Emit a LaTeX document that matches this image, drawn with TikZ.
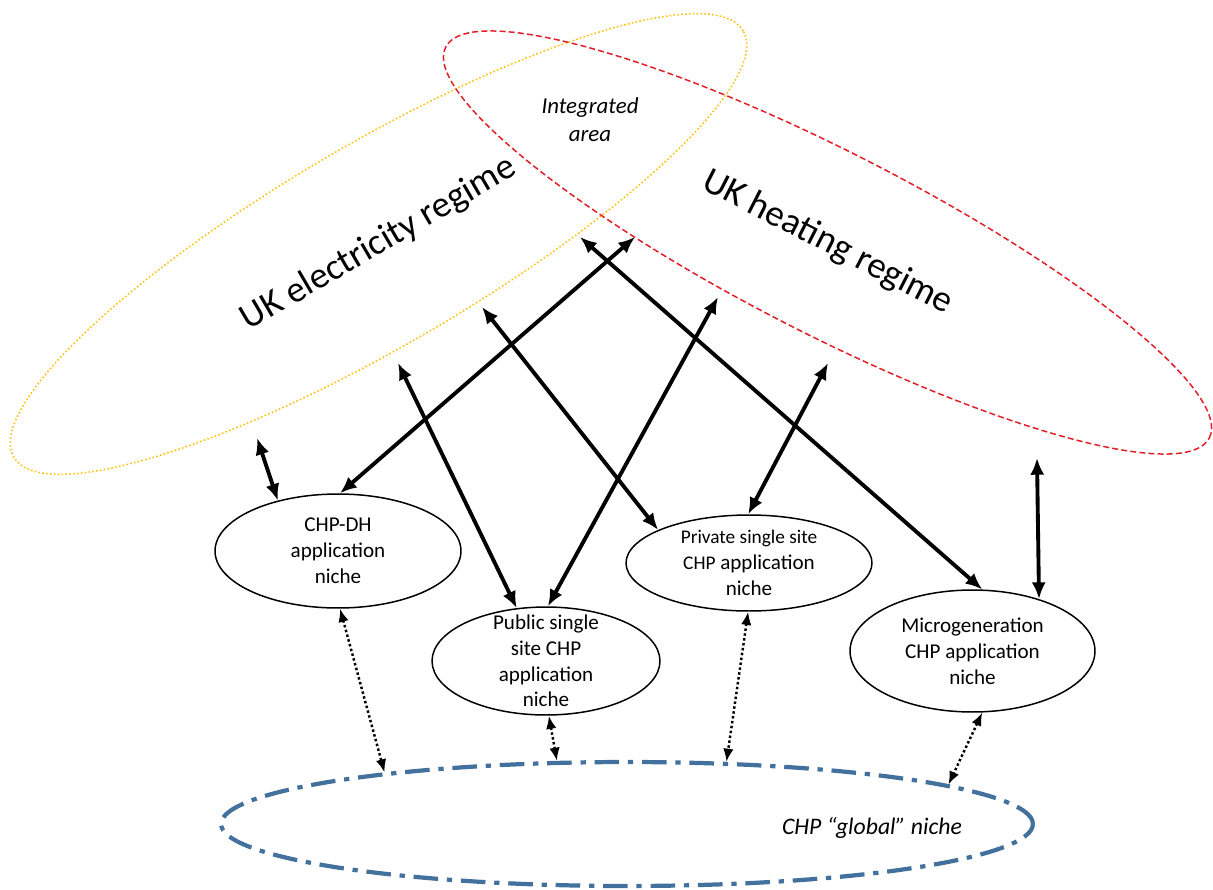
\documentclass[tikz,border=0pt]{standalone}
\usepackage{fontspec}
\setmainfont{Carlito}
\usetikzlibrary{shapes.geometric,arrows.meta}
\definecolor{elecgold}{RGB}{255,192,0}
\definecolor{heatred}{RGB}{226,30,38}
\definecolor{globalblue}{RGB}{65,113,156}
\begin{document}
\begin{tikzpicture}[x=0.02cm,y=-0.02cm,
  regime/.style={ellipse, inner sep=0pt, line width=0.85pt, font=\fontsize{21}{25}\selectfont},
  niche/.style={ellipse, draw, line width=0.85pt, inner sep=0pt},
  nichetext/.style={align=center, font=\fontsize{12}{14.7}\selectfont, inner sep=0pt},
  link/.style={line width=2.2pt, {Latex[length=9.5pt,width=8pt]}-{Latex[length=9.5pt,width=8pt]}},
  globallink/.style={line width=1.4pt, dash pattern=on 1.4pt off 1.4pt,
    {Latex[length=7.5pt,width=6pt]}-{Latex[length=7.5pt,width=6pt]}},
]
\useasboundingbox (0,0) rectangle (1213,889);

% regimes
\node[regime, draw=elecgold, dash pattern=on 0.9pt off 1.3pt, rotate=30.3,
      minimum width=16.9cm, minimum height=4.04cm] (elec) at (378.5,244) {UK electricity regime};
\node[regime, draw=heatred, dash pattern=on 3.4pt off 1.8pt, rotate=-27.1,
      minimum width=17.16cm, minimum height=3.64cm] (heat) at (827.5,242.5) {UK heating regime};
\node[align=center, font=\fontsize{13}{16}\selectfont\itshape, inner sep=0pt] (integ) at (590,120) {Integrated\\area};

% global niche
\node[ellipse, draw=globalblue, line width=2.4pt, dash pattern=on 14pt off 5pt on 3pt off 5pt,
      minimum width=16.24cm, minimum height=2.48cm, inner sep=0pt] (glob) at (627,824) {};
\node[font=\fontsize{13.5}{16}\selectfont\itshape, inner sep=0pt] (globtext) at (872,828) {CHP “global” niche};

% application niches
\node[niche, minimum width=4.92cm, minimum height=2.28cm] (dh) at (338,551) {};
\node[nichetext] (dhtext) at (dh) {CHP-DH\\application\\niche};
\node[niche, minimum width=4.56cm, minimum height=2.16cm] (pub) at (546,661) {};
\node[nichetext] (pubtext) at (pub) {Public single\\site CHP\\application\\niche};
\node[niche, minimum width=4.92cm, minimum height=1.92cm] (priv) at (749,563) {};
\node[nichetext] (privtext) at (priv) {{\fontsize{11}{14.7}\selectfont Private single site}\\{\fontsize{11}{14.7}\selectfont CHP} application\\niche};
\node[niche, minimum width=4.9cm, minimum height=2.44cm] (micro) at (972.5,651) {};
\node[nichetext] (microtext) at (micro) {Microgeneration\\CHP application\\niche};

% free ends of the regime links
\coordinate (t1) at (257,438);
\coordinate (t2) at (635,237);
\coordinate (t3) at (398,363);
\coordinate (t4) at (482,307);
\coordinate (t5) at (718,297);
\coordinate (t6) at (580,237);
\coordinate (t7) at (828,363);
\coordinate (t8) at (1037,458);

% regime <-> niche links
\draw[link] (t1) -- (dh.140);
\draw[link] (t2) -- (dh.88);
\draw[link] (t3) -- (pub.119);
\draw[link] (t4) -- (priv.160);
\draw[link] (t5) -- (pub.88);
\draw[link] (t6) -- (micro.81);
\draw[link] (t7) -- (priv.91);
\draw[link] (t8) -- (micro.38);

% niche <-> global niche links
\draw[globallink] (dh.-88) -- (glob.168.4);
\draw[globallink] (pub.-87) -- (glob.138.5);
\draw[globallink] (priv.-91) -- (glob.32.4);
\draw[globallink] (micro.-81) -- (glob.7);
\end{tikzpicture}
\end{document}
